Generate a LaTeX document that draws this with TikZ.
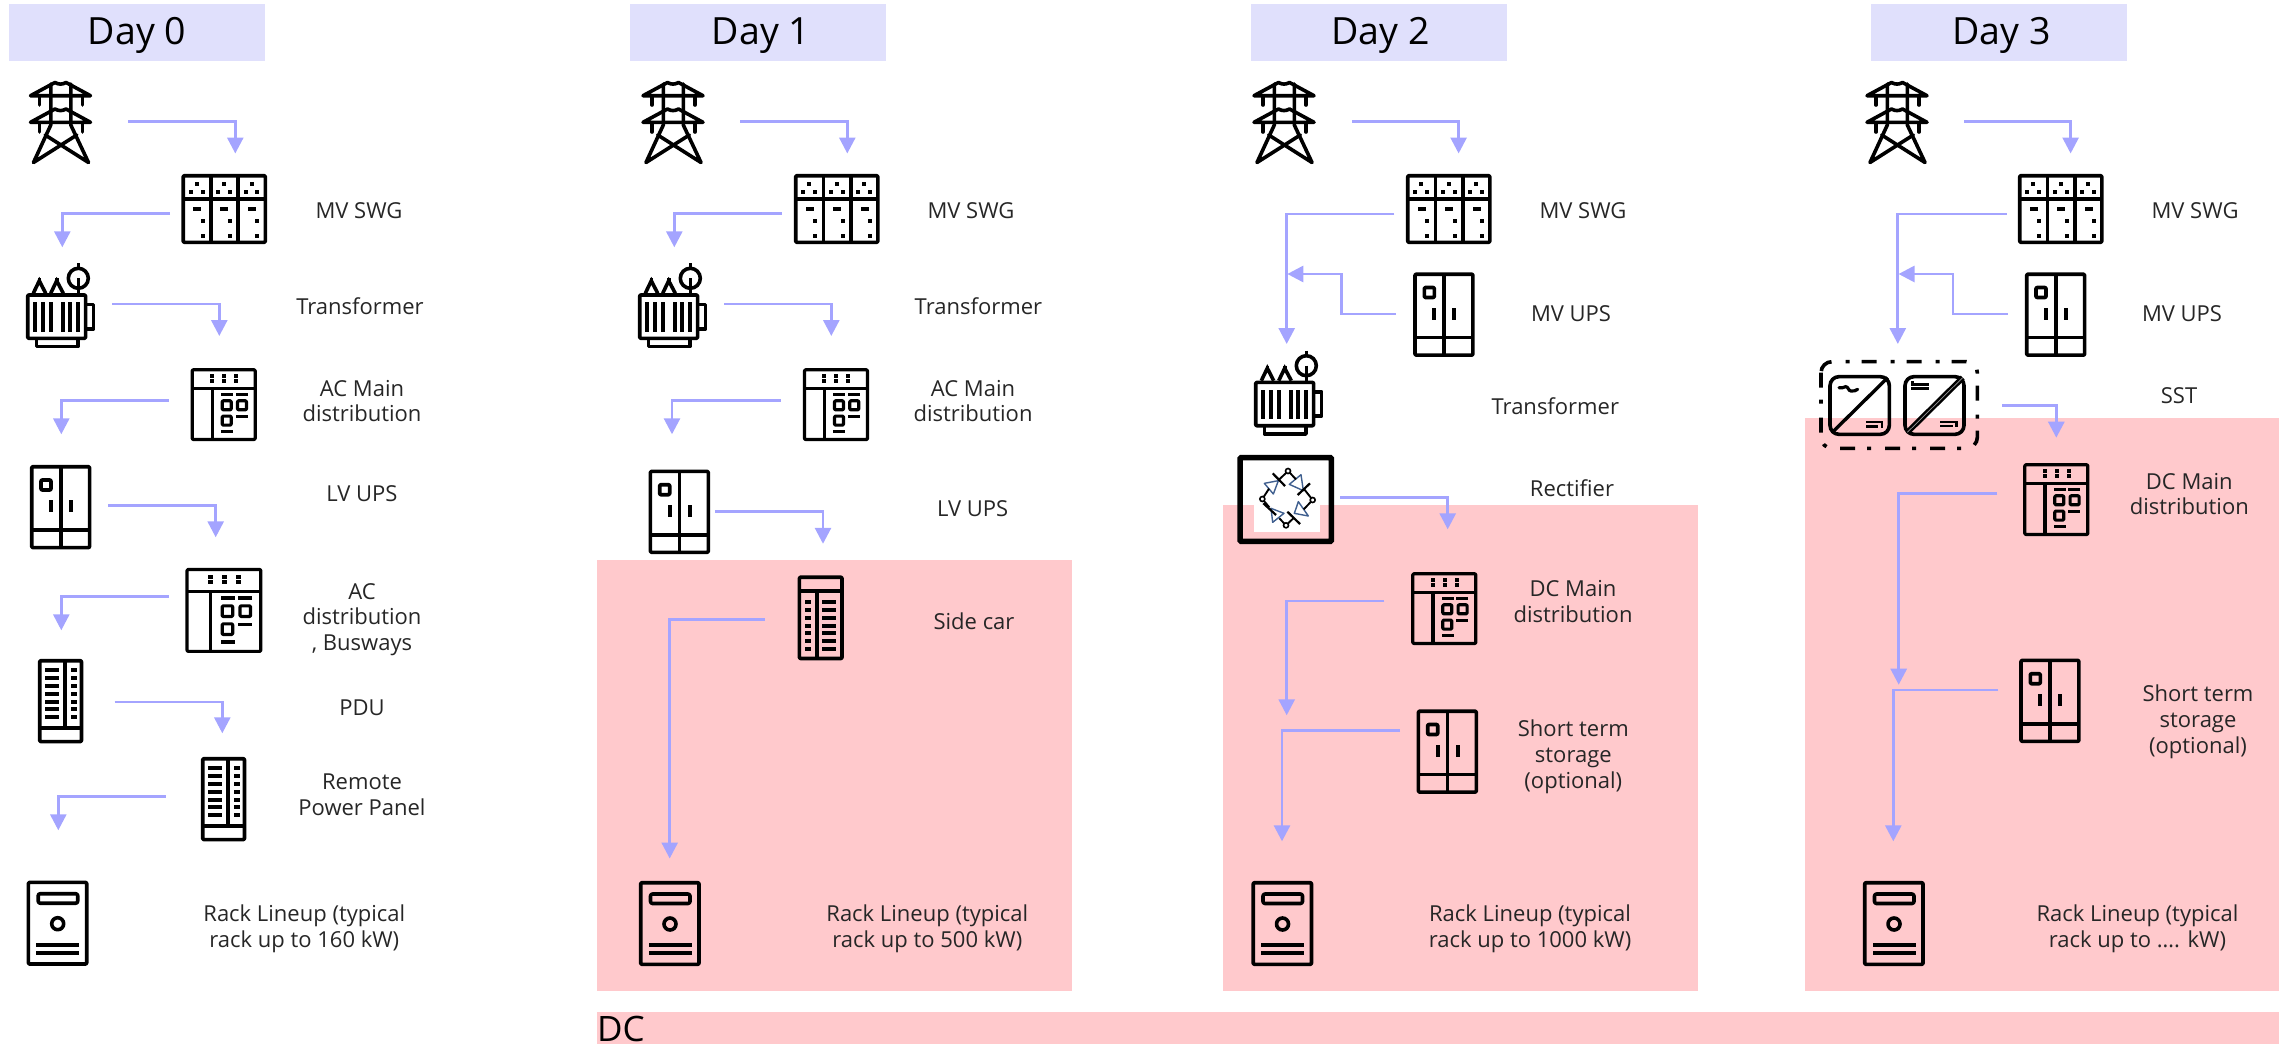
\documentclass[tikz,border=0pt]{standalone}
\usepackage{fontspec}
\setmainfont{Open Sans}
\usetikzlibrary{arrows.meta}
\definecolor{pinkband}{HTML}{FFC9CC}
\definecolor{dayhead}{HTML}{E0E0FC}
\definecolor{flowc}{HTML}{A4A4FF}
\definecolor{labc}{HTML}{262626}
\definecolor{diodeb}{HTML}{3F5F8F}
\newcommand{\bx}[4]{\fill (#1-#3/2,#2-#4/2) rectangle (#1+#3/2,#2+#4/2);}
\tikzset{
  x=1pt,y=-1pt,
  band/.style={fill=pinkband,draw=none},
  dayhd/.style={fill=dayhead,draw=none},
  ic/.style={draw=black,line width=3.6pt,line join=round},
  flow/.style={draw=flowc,line width=2.8pt,-{Triangle[length=16pt,width=16pt]}},
  lab/.style={font=\fontsize{22}{25.8}\selectfont,text=labc,align=center,inner sep=0pt},
  hd/.style={font=\fontsize{37.5}{40}\selectfont,text=black,inner sep=0pt},
  dclab/.style={font=\fontsize{35}{40}\selectfont,text=black,inner sep=0pt},
  tower/.pic={
    \begin{scope}[ic,line cap=round,line width=3.6pt]
    \draw (1,16.7)--(25.5,3.5) to[out=-30,in=-150] (36.5,3.5)--(61,16.7)--cycle;
    \draw (1,43.3)--(25.5,30) to[out=-30,in=-150] (36.5,30)--(61,43.3)--cycle;
    \draw (21.3,5)--(21.3,46)--(4,83.5)--(47.3,56);
    \draw (41.3,5)--(41.3,46)--(59,83.5)--(15.7,56);
    \draw (10,17)--(10,26) (53,17)--(53,26) (10,44)--(10,53) (53,44)--(53,53);
    \end{scope}
  },
  swg/.pic={
    \draw[ic,rounded corners=1pt] (1.7,1.7) rectangle (83.8,68.3);
    \draw[ic] (29.3,1.7)--(29.3,68.3) (56.7,1.7)--(56.7,68.3) (1.7,25)--(83.8,25);
    \foreach \a/\b in {15.3/10,9.3/17.7,21.3/17.7,42.7/10,36.7/17.7,48.7/17.7,70.3/10,64.3/17.7,75.7/17.7,21.3/47,21.3/62,48.7/47,48.7/62,75.7/47,75.7/62}{\bx{\a}{\b}{4}{4}}
    \foreach \a in {15.7,42.7,70.7}{\bx{\a}{35}{8.3}{4}}
  },
  xfmr/.pic={
    \draw[ic,rounded corners=1pt] (1.7,31.7) rectangle (59.6,75);
    \draw[ic] (61,41)--(67.5,41)--(67.5,65.5)--(61,65.5);
    \draw[ic] (10.5,76)--(10.5,83.3)--(52,83.3)--(52,76);
    \foreach \a in {9.3,17,25,36.7,44.3,52}{\bx{\a}{53.7}{4}{29.3}}
    \draw[ic,line join=miter] (7.3,30)--(13.3,17.5)--(19.7,30) (24.7,30)--(30.7,17.5)--(37.3,30);
    \draw[ic] (13.3,15)--(13.3,19) (30.7,15)--(30.7,19);
    \draw[ic] (52.3,15) circle (10);
    \draw[ic] (52.3,0)--(52.3,5) (52.3,15)--(52.3,30);
  },
  panel/.pic={
    \draw[ic,line width=3.2pt,rounded corners=1pt] (1.5,1.5) rectangle (64.5,71.2);
    \draw[ic,line width=3.2pt] (1.5,20)--(64.5,20) (21.7,20)--(21.7,71.2);
    \foreach \a in {21.3,33.3,45.3}{\bx{\a}{7.7}{4}{3.8}\bx{\a}{12.3}{4}{3.8}}
    \bx{36.3}{26}{12}{3}\bx{51}{26}{12}{3}\bx{51}{48.3}{12}{3}\bx{36.3}{63.3}{12}{3}
    \foreach \a/\b in {36/37,51.3/37,36/52.3}{\draw[ic,line width=3.2pt,rounded corners=1pt] (\a-4.5,\b-4.5) rectangle (\a+4.5,\b+4.5);}
  },
  upsbox/.pic={
    \draw[ic,rounded corners=1pt] (1.7,1.7) rectangle (59.6,82.6);
    \draw[ic] (30.7,1.7)--(30.7,82.6) (1.7,65)--(59.6,65);
    \draw[ic,rounded corners=1pt] (11,15) rectangle (21,25);
    \bx{21}{41}{4}{12}\bx{41}{41}{4}{12}
  },
  pdubox/.pic={
    \draw[ic,rounded corners=1pt] (1.7,1.7) rectangle (43.5,82.6);
    \draw[ic] (26.7,1.7)--(26.7,68.7) (1.7,68.7)--(43.5,68.7);
    \foreach \b in {10.7,18.7,26.7,34.7,42.7,49.7,57.7}{\bx{13.7}{\b}{14}{4}\bx{35.7}{\b}{6}{4}}
  },
  sidecar/.pic={
    \draw[ic,rounded corners=1pt] (1.7,1.7) rectangle (44.3,83);
    \draw[ic] (1.7,15.6)--(44.3,15.6) (19,15.6)--(19,83);
    \foreach \b in {26.4,34.3,42.5,50.7,57.4,65.5,73.7}{\bx{10.3}{\b}{6}{4}\bx{31.3}{\b}{14}{4}}
  },
  rackbox/.pic={
    \draw[ic,rounded corners=1pt] (1.7,1.7) rectangle (60,83.3);
    \draw[ic,rounded corners=2pt] (11.5,13) rectangle (51,22.5);
    \draw[ic] (31,43) circle (6);
    \bx{31}{64.3}{43}{4}\bx{31}{72}{43}{4}
  },
  rectifier/.pic={
    \begin{scope}[scale=1/3]
    \fill[white] (72,30) rectangle (270,245);
    \draw[line width=5.5pt,rounded corners=1pt] (30,23) rectangle (304,274);
    \foreach \a/\b/\c/\d/\e/\f in {103/100/145/92/130/132,178/103/213/74/220/122,193/190/205/155/235/198,123/175/162/190/128/217}{
      \draw[draw=diodeb,line width=1.4pt,line join=round] (\a,\b)--(\c,\d)--(\e,\f)--cycle;}
    \draw[line width=2.2pt] (128,70)--(165,108) (203,135)--(240,100) (172,185)--(210,222) (100,160)--(138,195);
    \draw[line width=1.9pt] (170,67)--(146,90) (97,147)--(117,116) (178,67)--(198,88) (248,150)--(222,117) (168,226)--(190,205) (248,150)--(221,178) (97,147)--(118,172) (168,226)--(148,205);
    \foreach \a/\b in {174/63,248/150,168/226,97/147}{\draw[line width=1.6pt,fill=white] (\a,\b) circle (7.5);}
    \end{scope}
  },
  sstbox/.pic={
    \begin{scope}[scale=1/3]
    \draw[line width=3.6pt,dash pattern=on 15pt off 12pt on 4pt off 14pt,rounded corners=11pt] (18,20) rectangle (487,280);
    \draw[ic,rounded corners=9pt] (45,65) rectangle (223,238);
    \draw[ic,rounded corners=9pt] (270,65) rectangle (447,238);
    \draw[line width=3.4pt] (52,232)--(218,68);
    \draw[line width=5.6pt] (277,232)--(443,68);
    \draw[draw=white!60!black,line width=.7pt] (277,232)--(443,68);
    \draw[line width=3.2pt,line cap=round] (72,98) to[out=-40,in=180] (92,95) to[out=0,in=180] (108,108) to[out=0,in=220] (128,103);
    \foreach \a/\b in {152/198,375/197}{\fill (\a,\b) rectangle ++(53,7);\fill (\a,\b+12) rectangle ++(38,8);\fill (\a+46,\b+7) rectangle ++(7,13);}
    \fill (288,85) rectangle ++(55,7);\fill (288,95) rectangle ++(55,10);\fill (288,78) rectangle ++(8,10);
    \end{scope}
  },
}
\begin{document}
\begin{tikzpicture}
\useasboundingbox (0,0) rectangle (2285,1044);
% pink bands
\path[band] (597,559.8) rectangle (1072,991);
\path[band] (1222.7,505) rectangle (1698,991);
\path[band] (1805,418) rectangle (2279,991);
\path[band] (597,1012) rectangle (2279,1044);
\node[dclab,anchor=west] (dc) at (597,1029) {DC};
% day headers
\path[dayhd] (9,4) rectangle (265,61);
\path[dayhd] (630,4) rectangle (886,61);
\path[dayhd] (1250.5,4) rectangle (1506.5,61);
\path[dayhd] (1871,4) rectangle (2127,61);
\node[hd] (h0) at (137,35.5) {Day 0};
\node[hd] (h1) at (761,35.5) {Day 1};
\node[hd] (h2) at (1380.5,35.5) {Day 2};
\node[hd] (h3) at (2001.5,35.5) {Day 3};
% Day 0 icons
\pic (i0t) at (29.5,79) {tower};
\pic (i0s) at (181.5,174) {swg};
\pic (i0x) at (26,263.3) {xfmr};
\pic (i0m) at (190.7,368.3) {panel};
\pic (i0u) at (30,465) {upsbox};
\pic[xscale=1.17,yscale=1.175] (i0a) at (185.3,567.7) {panel};
\pic (i0p) at (38,659) {pdubox};
\pic (i0r) at (201,757) {pdubox};
\pic (i0k) at (26.7,880.7) {rackbox};
% Day 1 icons
\pic (i1t) at (642,79) {tower};
\pic (i1s) at (794,174) {swg};
\pic (i1x) at (638,263.3) {xfmr};
\pic (i1m) at (803,368.3) {panel};
\pic (i1u) at (648.7,469.7) {upsbox};
\pic (i1c) at (797.7,575.5) {sidecar};
\pic (i1k) at (639,881) {rackbox};
% Day 2 icons
\pic (i2t) at (1253,79) {tower};
\pic (i2s) at (1406,174) {swg};
\pic (i2u) at (1413.3,272.5) {upsbox};
\pic (i2x) at (1254,350.7) {xfmr};
\pic (i2r) at (1230,450) {rectifier};
\pic (i2m) at (1411.3,572.3) {panel};
\pic (i2b) at (1416.7,709.5) {upsbox};
\pic (i2k) at (1251.5,881) {rackbox};
% Day 3 icons
\pic (i3t) at (1866,79) {tower};
\pic (i3s) at (2018,174) {swg};
\pic (i3u) at (2025,272.5) {upsbox};
\pic (i3v) at (1815,355) {sstbox};
\pic (i3m) at (2023.3,463.3) {panel};
\pic (i3b) at (2019.3,658.7) {upsbox};
\pic (i3k) at (1863,881) {rackbox};
% connector ends
\foreach \n/\a/\b/\c/\d in {
 a1/128/121.5/235.3/153.5, a2/170/213.7/62.3/247.3, a3/112/304/219.3/336, a4/168.7/400.7/61.3/434.3,
 a5/108/505.7/215.7/537.3, a6/168.7/596.7/61.3/630.3, a7/114.7/702/222.3/733.3, a8/165.7/796.7/58.3/830.3,
 b1/740/121.5/847.3/153.5, b2/782/213.7/674.3/247.3, b3/724/304/831.3/336, b4/780.7/400.7/672/434.3,
 b5/715.3/511.8/823/543.8, b6/764.7/619.8/669.7/858.5,
 c1/1352/121.5/1458.6/153.5, c2/1394.4/214/1286.7/344, c4/1340/497.3/1447.7/529.3, c5/1384.3/601/1286.7/715.3, c6/1400/730.3/1282/841.3,
 d1/1964/121.5/2070.6/153.5, d2/2006.6/214/1897.8/344, d4/2002/405.7/2056.3/437.7, d5/1997.3/493.7/1898.7/684.7, d6/1998.3/690/1893.3/841.3}{
  \coordinate (\n s) at (\a,\b);
  \coordinate (\n e) at (\c,\d);
  \draw[flow] (\n s) -| (\n e);
}
\foreach \n/\a/\m/\e in {c3/1396/1341.7/1287.3, d3/2008/1953/1898.5}{
  \coordinate (\n s) at (\a,314);
  \coordinate (\n m) at (\m,274);
  \coordinate (\n e) at (\e,274);
  \draw[flow] (\n s) -| (\n m) -- (\n e);
}
% labels Day 0
\node[lab] (l01) at (359,211) {MV SWG};
\node[lab] (l02) at (360,305.7) {Transformer};
\node[lab] (l03) at (362,401) {AC Main\\distribution};
\node[lab] (l04) at (362,493.7) {LV UPS};
\node[lab] (l05) at (362,619.5) {AC\\distribution\\, Busways};
\node[lab] (l06) at (362,707.3) {PDU};
\node[lab] (l07) at (362,795) {Remote\\Power Panel};
\node[lab] (l08) at (304.3,928.5) {Rack Lineup (typical\\rack up to 160 kW)};
% labels Day 1
\node[lab] (l11) at (971,211) {MV SWG};
\node[lab] (l12) at (978.4,305.7) {Transformer};
\node[lab] (l13) at (973,401) {AC Main\\distribution};
\node[lab] (l14) at (972.7,508.4) {LV UPS};
\node[lab] (l15) at (974,621) {Side car};
\node[lab] (l16) at (927.3,928.5) {Rack Lineup (typical\\rack up to 500 kW)};
% labels Day 2
\node[lab] (l21) at (1583,211) {MV SWG};
\node[lab] (l22) at (1571,313.3) {MV UPS};
\node[lab] (l23) at (1555.3,406) {Transformer};
\node[lab] (l24) at (1572,488) {Rectifier};
\node[lab] (l25) at (1573,601.5) {DC Main\\distribution};
\node[lab] (l26) at (1573.3,756.5) {Short term\\storage\\(optional)};
\node[lab] (l27) at (1530,928.5) {Rack Lineup (typical\\rack up to 1000 kW)};
% labels Day 3
\node[lab] (l31) at (2195,211) {MV SWG};
\node[lab] (l32) at (2182,313.3) {MV UPS};
\node[lab] (l33) at (2179,395.7) {SST};
\node[lab] (l34) at (2189.3,494) {DC Main\\distribution};
\node[lab] (l35) at (2198,721.5) {Short term\\storage\\(optional)};
\node[lab] (l36) at (2137.5,928.5) {Rack Lineup (typical\\rack up to …. kW)};
\end{tikzpicture}
\end{document}
